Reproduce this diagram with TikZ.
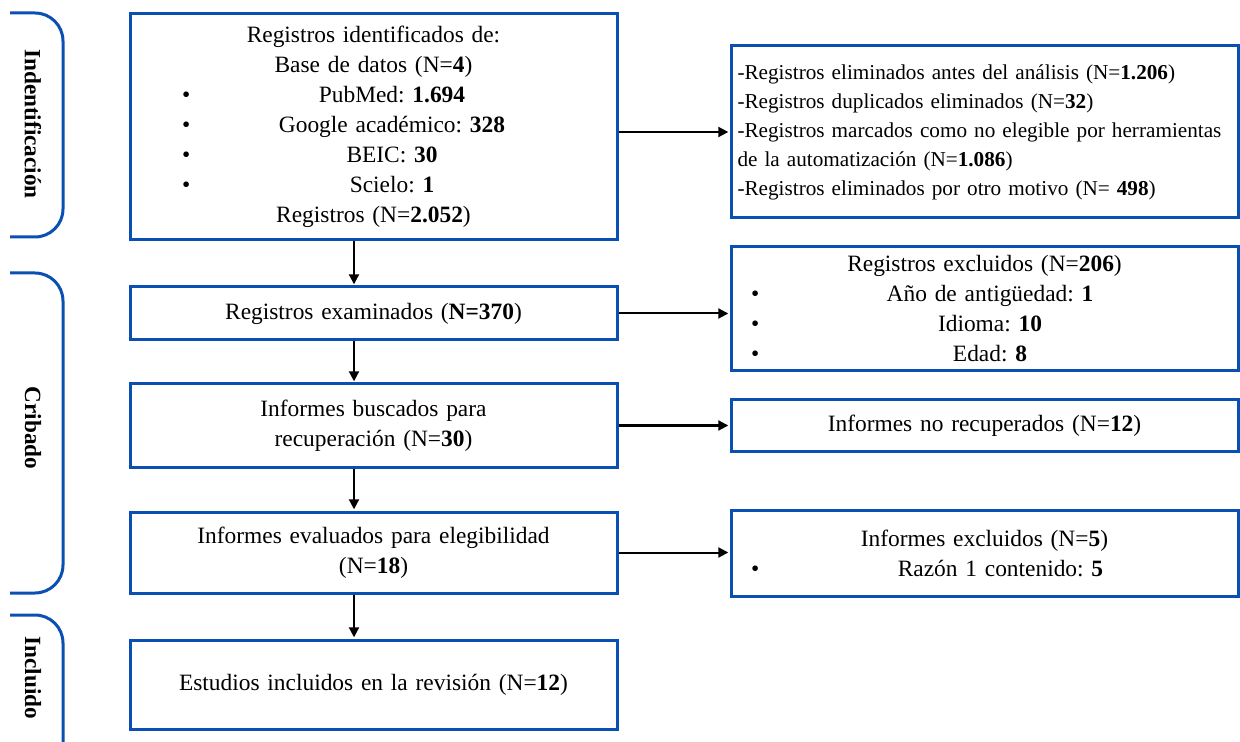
\documentclass[tikz,border=0pt]{standalone}
\usepackage{fontspec}
\setmainfont{Liberation Serif}
\usepackage{xcolor}
\usepackage{tikz}
\usetikzlibrary{arrows.meta}
\definecolor{prisma}{RGB}{10,80,178}
\frenchspacing
\hyphenpenalty=10000
\newcommand{\bitem}[3]{\noindent\hbox to \hsize{\rlap{\hspace*{#1}\textbullet}\hfill\hspace*{#2}#3\hfill}}
\tikzset{
  stagebox/.style = {draw=prisma, line width=1.5pt, text width=243.5pt,
                     inner xsep=0pt, inner ysep=0pt, align=center,
                     font=\fontsize{11.7}{15}\selectfont},
  sidebox/.style  = {stagebox, text width=253.5pt},
  phase/.style    = {draw=prisma, line width=1.5pt, rounded corners=14pt},
  phaselab/.style = {rotate=-90, font=\fontsize{11.6}{14}\selectfont\bfseries},
  flow/.style     = {-{Triangle[length=5pt,width=5pt]}, line width=1pt,
                     shorten >=0.6pt},
}

\begin{document}
\begin{tikzpicture}[x=0.5pt, y=-0.5pt]
  \useasboundingbox (0,0) rectangle (1240,742);
  \draw[phase] (10,13) -- (63,13) -- (63,237) -- (10,237);
  \draw[phase] (10,273) -- (63,273) -- (63,593) -- (10,593);
  \begin{scope}
    \clip (0,0) rectangle (1240,742);
    \draw[phase] (10,615) -- (63,615) -- (63,780) -- (10,780);
  \end{scope}
  \node[phaselab] (lident) at (33,124) {Indentificación};
  \node[phaselab] (lcrib)  at (33,428) {Cribado};
  \node[phaselab] (lincl)  at (33,678) {Incluido};

  \node[stagebox, minimum height=113pt] (ident) at (373.5,127)
    {Registros identificados de:\\
     Base de datos (N=\textbf{4})\\
     \bitem{26pt}{18.5pt}{PubMed: \textbf{1.694}}\\
     \bitem{26pt}{18.5pt}{Google académico: \textbf{328}}\\
     \bitem{26pt}{18.5pt}{BEIC: \textbf{30}}\\
     \bitem{26pt}{18.5pt}{Scielo: \textbf{1}}\\
     Registros (N=\textbf{2.052})};
  \node[stagebox, minimum height=26.5pt] (screened) at (373.5,313.5)
    {Registros examinados (\textbf{N=370})};
  \node[stagebox, minimum height=41.5pt] (sought) at (373.5,425.5)
    {Informes buscados para\\ recuperación (N=\textbf{30})};
  \node[stagebox, minimum height=40.5pt] (assessed) at (373.5,552.5)
    {Informes evaluados para elegibilidad\\ (N=\textbf{18})};
  \node[stagebox, minimum height=44.5pt] (included) at (373.5,684.5)
    {Estudios incluidos en la revisión (N=\textbf{12})};

  \node[sidebox, align=left, text width=247pt, inner xsep=3.25pt,
        font=\fontsize{10.6}{14.5}\selectfont,
        minimum height=86pt] (removed) at (984.5,132)
    {-Registros eliminados antes del análisis (N=\textbf{1.206})\\
     -Registros duplicados eliminados (N=\textbf{32})\\
     -Registros marcados como no elegible por herramientas\\
     de la automatización (N=\textbf{1.086})\\
     -Registros eliminados por otro motivo (N= \textbf{498})};
  \node[sidebox, minimum height=62pt] (excluded) at (984.5,309)
    {Registros excluidos (N=\textbf{206})\\
     \bitem{10pt}{5.5pt}{Año de antigüedad: \textbf{1}}\\
     \bitem{10pt}{5.5pt}{Idioma: \textbf{10}}\\
     \bitem{10pt}{5.5pt}{Edad: \textbf{8}}};
  \node[sidebox, minimum height=25.5pt] (notretr) at (984.5,425.5)
    {Informes no recuperados (N=\textbf{12})};
  \node[sidebox, minimum height=43pt] (repexcl) at (984.5,553)
    {Informes excluidos (N=\textbf{5})\\
     \bitem{10pt}{16pt}{Razón 1 contenido: \textbf{5}}};

  \coordinate (spine) at (354,0);
  \draw[flow] (ident.south -| spine) to (screened.north -| spine);
  \draw[flow] (screened.south -| spine) to (sought.north -| spine);
  \draw[flow] (sought.south -| spine) to (assessed.north -| spine);
  \draw[flow] (assessed.south -| spine) to (included.north -| spine);

  \draw[flow] (ident.east |- removed.west) to (removed.west);
  \draw[flow] (screened.east) to (screened.east -| excluded.west);
  \draw[flow] (sought.east) to (sought.east -| notretr.west);
  \draw[flow] (assessed.east) to (assessed.east -| repexcl.west);
\end{tikzpicture}
\end{document}
